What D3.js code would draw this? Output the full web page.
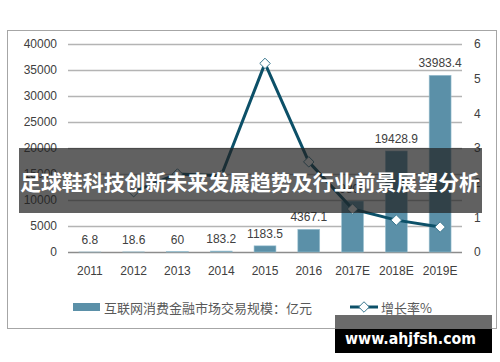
<!DOCTYPE html>
<html>
<head>
<meta charset="utf-8">
<script src="https://cdn.jsdelivr.net/npm/d3@7"></script>
<style>
  body { margin: 0; background: #fff; }
  svg { display: block; font-family: "Liberation Sans", Arial, sans-serif; }
</style>
</head>
<body>
<svg id="chart" width="500" height="362"></svg>
<script>
// chart data
const years = ["2011", "2012", "2013", "2014", "2015", "2016", "2017E", "2018E", "2019E"];
const volume = [6.8, 18.6, 60, 183.2, 1183.5, 4367.1, 9800, 19428.9, 33983.4];
const volumeLabels = ["6.8", "18.6", "60", "183.2", "1183.5", "4367.1", "9800", "19428.9", "33983.4"];
const growth = [null, 1.74, 2.25, 2.2, 5.44, 2.6, 1.24, 0.92, 0.72];
const leftTicks = [0, 5000, 10000, 15000, 20000, 25000, 30000, 35000, 40000];
const rightTicks = [0, 1, 2, 3, 4, 5, 6];
const barName = "互联网消费金融市场交易规模：亿元";
const lineName = "增长率%";
const title = "足球鞋科技创新未来发展趋势及行业前景展望分析";
const watermark = "www.ahjfsh.com";

const svg = d3.select("#chart");
const plot = {left: 68, right: 462, top: 44, bottom: 252};

const x = d3.scaleBand().domain(years).range([plot.left, plot.right]).paddingInner(0.5).paddingOuter(0.25);
const yL = d3.scaleLinear().domain([0, 40000]).range([plot.bottom, plot.top]);
const yR = d3.scaleLinear().domain([0, 6]).range([plot.bottom, plot.top]);

// outer frame
svg.append("rect").attr("x", 7.5).attr("y", 30.5).attr("width", 489).attr("height", 298)
  .attr("fill", "#fff").attr("stroke", "#a6a6a6").attr("stroke-width", 1);

// gridlines
svg.append("g").selectAll("line").data(leftTicks).join("line")
  .attr("x1", plot.left).attr("x2", plot.right)
  .attr("y1", d => Math.round(yL(d)) + 0.5).attr("y2", d => Math.round(yL(d)) + 0.5)
  .attr("stroke", d => d === 0 ? "#8c8c8c" : "#b4b4b4").attr("stroke-width", 1.3);

// left axis
const axL = svg.append("g").attr("transform", `translate(${plot.left - 11},0)`)
  .call(d3.axisLeft(yL).tickValues(leftTicks).tickSize(0).tickPadding(0).tickFormat(d3.format("d")));
axL.select(".domain").remove();
axL.selectAll("text").attr("font-size", 12).attr("fill", "#404040").attr("font-family", "Liberation Sans, Arial, sans-serif");

// right axis
const axR = svg.append("g").attr("transform", `translate(${plot.right + 12},0)`)
  .call(d3.axisRight(yR).tickValues(rightTicks).tickSize(0).tickPadding(0).tickFormat(d3.format("d")));
axR.select(".domain").remove();
axR.selectAll("text").attr("font-size", 12).attr("fill", "#404040").attr("font-family", "Liberation Sans, Arial, sans-serif");

// bottom axis
const axB = svg.append("g").attr("transform", `translate(0,${plot.bottom + 14})`)
  .call(d3.axisBottom(x).tickSize(0).tickPadding(0));
axB.select(".domain").remove();
axB.selectAll("text").attr("font-size", 12).attr("fill", "#404040").attr("dy", "0.71em").attr("font-family", "Liberation Sans, Arial, sans-serif");

// bars
svg.append("g").selectAll("rect").data(volume).join("rect")
  .attr("x", (d, i) => x(years[i])).attr("width", x.bandwidth())
  .attr("y", d => yL(d)).attr("height", d => plot.bottom - yL(d))
  .attr("fill", "#5b90a8").attr("stroke", "#9cc1d1").attr("stroke-width", 0.6);

// bar labels
svg.append("g").selectAll("text").data(volume).join("text")
  .attr("x", (d, i) => x(years[i]) + x.bandwidth() / 2)
  .attr("y", d => yL(d) - 8)
  .attr("text-anchor", "middle").attr("font-size", 12).attr("fill", "#404040")
  .text((d, i) => volumeLabels[i]);

// growth line
const pts = growth.map((g, i) => ({year: years[i], g})).filter(p => p.g !== null);
const line = d3.line().x(p => x(p.year) + x.bandwidth() / 2).y(p => yR(p.g));
svg.append("path").datum(pts).attr("d", line)
  .attr("fill", "none").attr("stroke", "#0c5068").attr("stroke-width", 3).attr("stroke-linejoin", "round");

const diamond = d3.symbol().type(d3.symbolDiamond2).size(70);
svg.append("g").selectAll("path").data(pts).join("path")
  .attr("d", diamond)
  .attr("transform", p => `translate(${x(p.year) + x.bandwidth() / 2},${yR(p.g)})`)
  .attr("fill", "#fff").attr("stroke", "#3a7890").attr("stroke-width", 1);

// legend
const lg = svg.append("g");
lg.append("rect").attr("x", 73).attr("y", 303).attr("width", 27).attr("height", 8).attr("fill", "#5b90a8");
lg.append("text").attr("x", 104).attr("y", 312.5).attr("font-size", 13).attr("fill", "#595959")
  .attr("font-family", "Noto Sans CJK SC, sans-serif").text(barName);
lg.append("line").attr("x1", 350).attr("x2", 378).attr("y1", 307).attr("y2", 307)
  .attr("stroke", "#0c5068").attr("stroke-width", 3);
lg.append("path").attr("d", diamond).attr("transform", "translate(364,307)")
  .attr("fill", "#fff").attr("stroke", "#3a7890").attr("stroke-width", 1);
lg.append("text").attr("x", 381).attr("y", 312.5).attr("font-size", 13).attr("fill", "#595959")
  .attr("font-family", "Noto Sans CJK SC, sans-serif").text(lineName);

// title banner overlay
svg.append("rect").attr("x", 19).attr("y", 148).attr("width", 463).attr("height", 65)
  .attr("fill", "rgb(32,32,32)").attr("fill-opacity", 0.71);
svg.append("text").attr("x", 250).attr("y", 190).attr("text-anchor", "middle")
  .attr("font-size", 21).attr("font-weight", "bold").attr("fill", "#fff")
  .attr("font-family", "Noto Sans CJK SC, sans-serif")
  .attr("textLength", 460).attr("lengthAdjust", "spacingAndGlyphs")
  .text(title);

// watermark
svg.append("rect").attr("x", 335).attr("y", 315).attr("width", 157).attr("height", 14).attr("fill", "#6b6b6b");
svg.append("rect").attr("x", 335).attr("y", 329).attr("width", 157).attr("height", 24).attr("fill", "#000");
svg.append("text").attr("x", 410.5).attr("y", 343.5).attr("text-anchor", "middle")
  .attr("font-size", 16).attr("font-weight", "bold").attr("fill", "#fff")
  .attr("font-family", "DejaVu Sans, sans-serif")
  .attr("textLength", 131).attr("lengthAdjust", "spacingAndGlyphs")
  .text(watermark);
</script>
</body>
</html>
